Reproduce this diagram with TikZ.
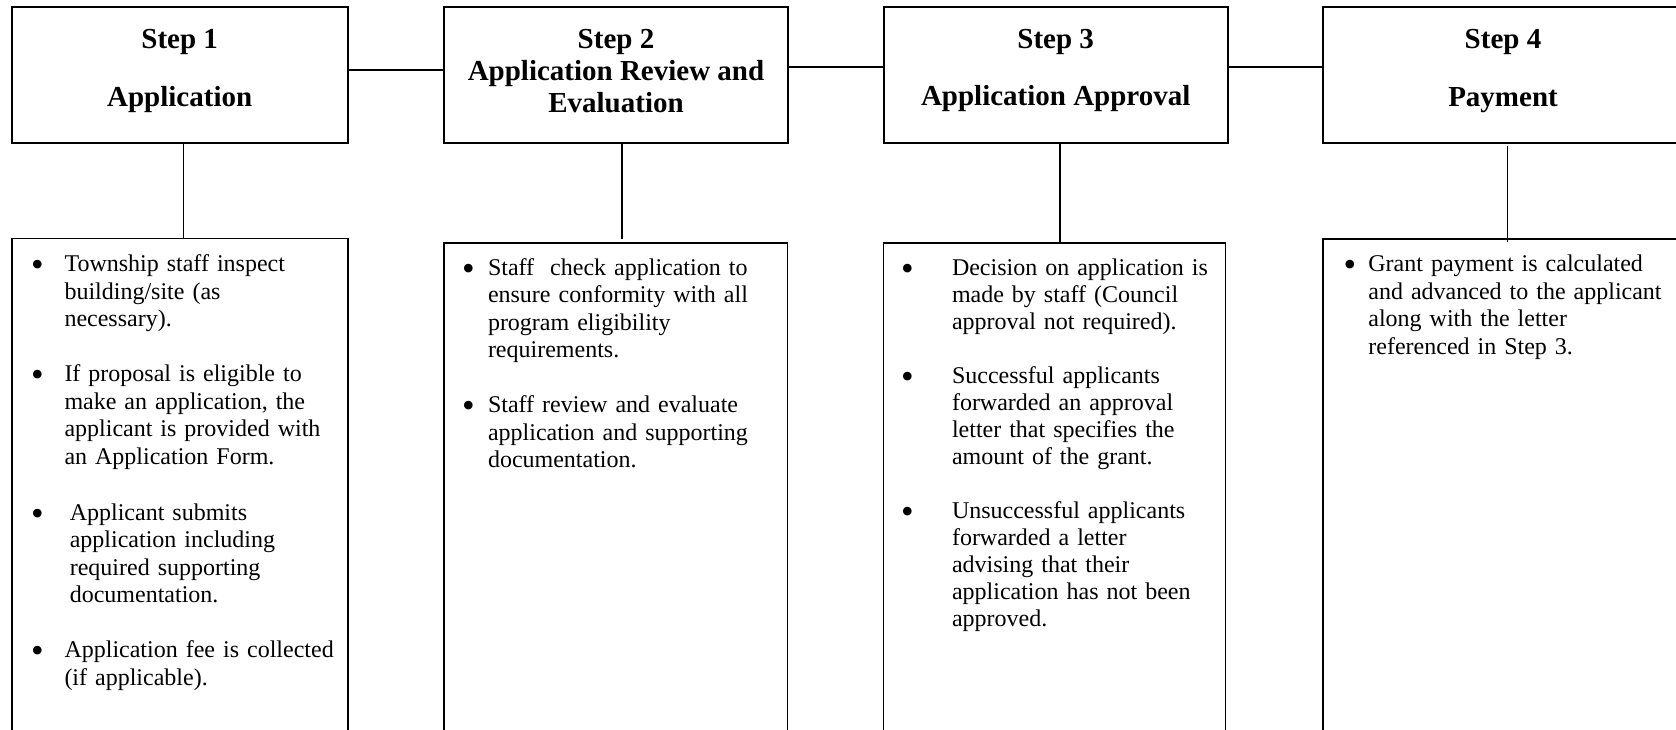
\documentclass[tikz,border=0pt]{standalone}
\usepackage{fontspec}
\setmainfont{Liberation Serif}
\begin{document}
\begin{tikzpicture}[x=1pt,y=-1pt,
  headbox/.style={draw, line width=2pt, inner sep=0pt, outer sep=0pt, anchor=north west, minimum height=135.4pt},
  listbox/.style={draw, line width=1.6pt, inner sep=0pt, outer sep=0pt, anchor=north west, minimum height=530pt},
  headtext/.style={font=\fontsize{29}{33}\selectfont\bfseries, anchor=base, inner sep=0pt},
  bodytext/.style={font=\fontsize{24}{27.5}\selectfont, anchor=base west, inner sep=0pt, text width=330pt, align=left},
  bodytextb/.style={font=\fontsize{24}{27}\selectfont, anchor=base west, inner sep=0pt, text width=330pt, align=left},
  bullettext/.style={font=\fontsize{36}{36}\selectfont, anchor=base, inner sep=0pt, yshift=-5pt},
  link/.style={line width=2pt},
  drop/.style={line width=1.5pt}]
\useasboundingbox (0,0) rectangle (1676,729);
\clip (0,0) rectangle (1676,729);

% header boxes
\node[headbox, minimum width=335.9pt] (h1) at (11.8,7.3) {};
\node[headbox, minimum width=344pt]   (h2) at (444,7.3) {};
\node[headbox, minimum width=344.5pt] (h3) at (883.5,7.3) {};
\node[headbox, minimum width=367pt]   (h4) at (1323,7.3) {};

% list boxes
\node[listbox, minimum width=335.9pt] (b1) at (11.8,238.3) {};
\node[listbox, minimum width=343.8pt] (b2) at (443.7,242.7) {};
\node[listbox, minimum width=342pt]   (b3) at (883.5,242.7) {};
\node[listbox, minimum width=367pt]   (b4) at (1323,239) {};

% header texts
\node[headtext] (t1a) at (179.7,48) {Step 1};
\node[headtext] (t1b) at (179.7,106) {Application};
\node[headtext] (t2a) at (616,48) {Step 2};
\node[headtext] (t2b) at (616,80) {Application Review and};
\node[headtext] (t2c) at (616,112) {Evaluation};
\node[headtext] (t3a) at (1055.7,48) {Step 3};
\node[headtext] (t3b) at (1055.7,105.5) {Application Approval};
\node[headtext] (t4a) at (1503,48) {Step 4};
\node[headtext] (t4b) at (1503,106) {Payment};

% horizontal connectors
\coordinate (y12) at (0,70);
\coordinate (y23) at (0,66.5);
\coordinate (y34) at (0,66.5);
\draw[link] (h1.east |- y12) -- (h2.west |- y12);
\draw[link] (h2.east |- y23) -- (h3.west |- y23);
\draw[link] (h3.east |- y34) -- (h4.west |- y34);

% vertical connectors
\coordinate (x1) at (183.5,0);
\coordinate (x2) at (622,0);
\coordinate (x3) at (1059.8,0);
\coordinate (x4) at (1507.7,0);
\draw[drop] (h1.south -| x1) -- (b1.north -| x1);
\draw[drop, shorten >=4pt] (h2.south -| x2) -- (b2.north -| x2);
\draw[drop] (h3.south -| x3) -- (b3.north -| x3);
\draw[drop, shorten <=3pt, shorten >=-3pt] (h4.south -| x4) -- (b4.north -| x4);

% box 1 list
\node[bullettext] (d11) at (37.5,271.7) {•};
\node[bodytext] (p11) at (64.3,271.7) {Township staff inspect\\building/site (as\\necessary).};
\node[bullettext] (d12) at (37.5,381.7) {•};
\node[bodytext] (p12) at (64.3,381.7) {If proposal is eligible to\\make an application, the\\applicant is provided with\\an Application Form.};
\node[bullettext] (d13) at (37.5,520) {•};
\node[bodytext] (p13) at (69.6,520) {Applicant submits\\application including\\required supporting\\documentation.};
\node[bullettext] (d14) at (37.5,657.7) {•};
\node[bodytext] (p14) at (64.3,657.7) {Application fee is collected\\(if applicable).};

% box 2 list
\node[bullettext] (d21) at (468.5,275) {•};
\node[bodytext] (p21) at (487.8,275) {Staff\ \ check application to\\ensure conformity with all\\program eligibility\\requirements.};
\node[bullettext] (d22) at (468.5,412.7) {•};
\node[bodytext] (p22) at (487.8,412.7) {Staff review and evaluate\\application and supporting\\documentation.};

% box 3 list
\node[bullettext] (d31) at (907.5,275) {•};
\node[bodytextb] (p31) at (951.8,275) {Decision on application is\\made by staff (Council\\approval not required).};
\node[bullettext] (d32) at (907.5,383) {•};
\node[bodytextb] (p32) at (951.8,383) {Successful applicants\\forwarded an approval\\letter that specifies the\\amount of the grant.};
\node[bullettext] (d33) at (907.5,518) {•};
\node[bodytextb] (p33) at (951.8,518) {Unsuccessful applicants\\forwarded a letter\\advising that their\\application has not been\\approved.};

% box 4 list
\node[bullettext] (d41) at (1350,271.7) {•};
\node[bodytext] (p41) at (1368.2,271.7) {Grant payment is calculated\\and advanced to the applicant\\along with the letter\\referenced in Step 3.};
\end{tikzpicture}
\end{document}
